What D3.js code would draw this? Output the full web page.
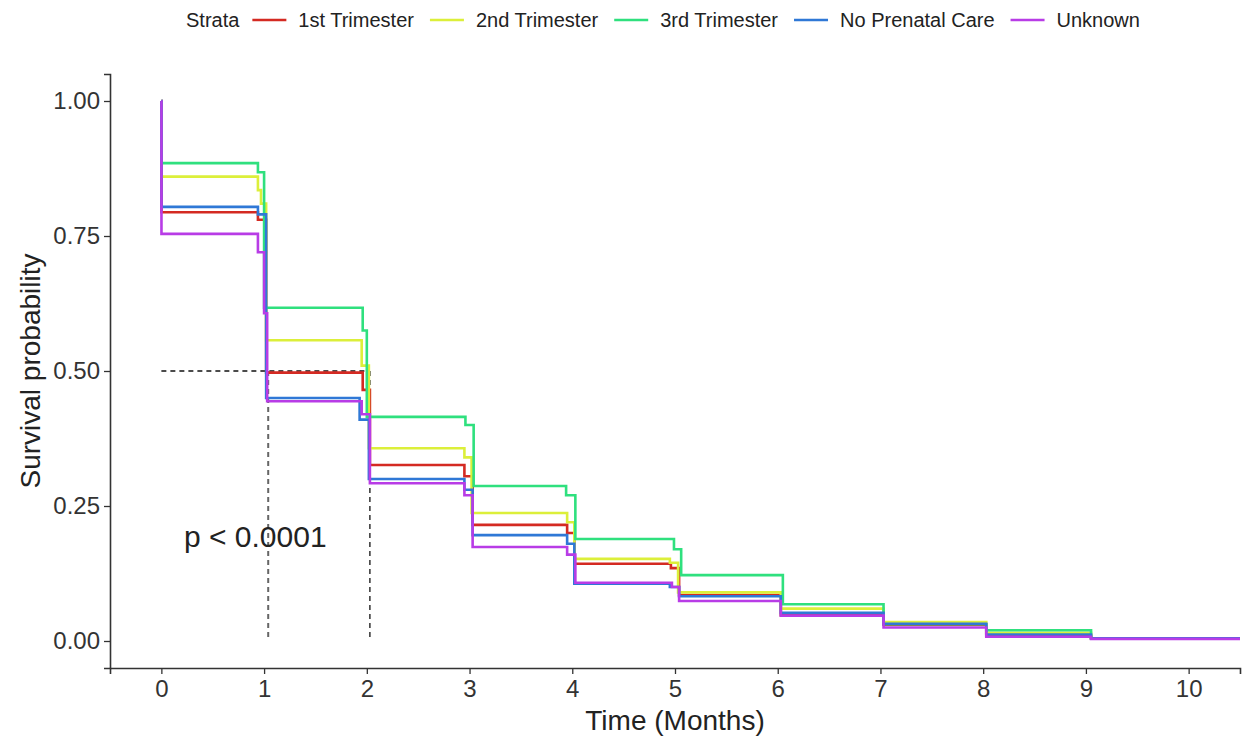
<!DOCTYPE html>
<html>
<head>
<meta charset="utf-8">
<script src="https://cdn.jsdelivr.net/npm/d3@7"></script>
<style>
  html, body { margin: 0; padding: 0; background: #fff; }
  svg { display: block; font-family: "Liberation Sans", Arial, sans-serif; }
</style>
</head>
<body>
<svg id="chart" width="1242" height="746"></svg>
<script>
// ---- data ----
const strata = ["1st Trimester", "2nd Trimester", "3rd Trimester", "No Prenatal Care", "Unknown"];
const colors = ["#d42a22", "#dcef3a", "#2fe07e", "#2f78d6", "#b83ce6"];

// each stratum: step times (months) and survival value from that time on
const timesFirst  = [0, 0.001, 0.94, 1.02, 1.96, 2.03, 2.95, 3.03, 3.95, 4.02, 4.96, 5.04, 6.03, 7.03, 8.03, 9.05, 10.5];
const survFirst   = [1, 0.794, 0.78, 0.497, 0.465, 0.326, 0.305, 0.215, 0.200, 0.143, 0.135, 0.085, 0.048, 0.030, 0.010, 0.005, 0.005];

const timesSecond = [0, 0.001, 0.94, 0.97, 1.02, 1.95, 2.02, 2.95, 3.02, 3.95, 4.02, 4.95, 5.03, 6.03, 7.03, 8.03, 9.05, 10.5];
const survSecond  = [1, 0.860, 0.835, 0.81, 0.557, 0.51, 0.357, 0.34, 0.237, 0.22, 0.152, 0.145, 0.090, 0.060, 0.035, 0.015, 0.005, 0.005];

const timesThird  = [0, 0.001, 0.94, 1.00, 1.96, 2.00, 2.96, 3.04, 3.94, 4.03, 4.99, 5.06, 6.05, 7.03, 8.03, 9.05, 10.5];
const survThird   = [1, 0.885, 0.868, 0.617, 0.575, 0.415, 0.40, 0.287, 0.27, 0.189, 0.17, 0.122, 0.068, 0.031, 0.020, 0.005, 0.005];

const timesNoCare = [0, 0.001, 0.94, 1.02, 1.93, 2.02, 2.95, 3.03, 3.95, 4.02, 4.95, 5.04, 6.03, 7.03, 8.03, 9.05, 10.5];
const survNoCare  = [1, 0.804, 0.79, 0.450, 0.41, 0.300, 0.28, 0.196, 0.18, 0.106, 0.100, 0.083, 0.052, 0.032, 0.012, 0.005, 0.005];

const timesUnknown = [0, 0.001, 0.94, 1.00, 1.03, 1.95, 2.03, 2.95, 3.03, 3.95, 4.03, 4.97, 5.04, 6.03, 7.03, 8.03, 9.05, 10.5];
const survUnknown  = [1, 0.754, 0.72, 0.607, 0.444, 0.42, 0.292, 0.27, 0.174, 0.16, 0.108, 0.10, 0.074, 0.047, 0.025, 0.008, 0.004, 0.004];

const seriesTimes = [timesFirst, timesSecond, timesThird, timesNoCare, timesUnknown];
const seriesSurv  = [survFirst, survSecond, survThird, survNoCare, survUnknown];

const xTicks = [0, 1, 2, 3, 4, 5, 6, 7, 8, 9, 10];
const yTicks = [0, 0.25, 0.5, 0.75, 1.0];
const yTickLabels = ["0.00", "0.25", "0.50", "0.75", "1.00"];

// median survival lines
const medianLevel = 0.5;
const medianTimes = [1.04, 2.03];
const pValueText = "p < 0.0001";

// ---- drawing ----
const svg = d3.select("#chart");
const x = d3.scaleLinear().domain([-0.5, 10.5]).range([110, 1240]);
const y = d3.scaleLinear().domain([-0.05, 1.05]).range([668, 74]);

const axisColor = "#333";

// axes
const xAxis = svg.append("g").attr("transform", `translate(0,${y(-0.05)})`)
  .call(d3.axisBottom(x).tickValues(xTicks).tickFormat(d3.format("d")).tickSizeOuter(0).tickSize(6).tickPadding(6));
const yAxis = svg.append("g").attr("transform", `translate(${x(-0.5)},0)`)
  .call(d3.axisLeft(y).tickValues(yTicks).tickFormat((d, i) => yTickLabels[i]).tickSizeOuter(0).tickSize(6).tickPadding(4));

[xAxis, yAxis].forEach(g => {
  g.select(".domain").attr("stroke", axisColor).attr("stroke-width", 1.6);
  g.selectAll(".tick line").attr("stroke", axisColor).attr("stroke-width", 1.3);
  g.selectAll(".tick text").attr("fill", "#333").style("font-size", "24px")
    .style("font-family", '"Liberation Sans", Arial, sans-serif');
});
xAxis.selectAll(".tick text").attr("dy", "0.72em");

// median dashed lines
svg.append("line")
  .attr("x1", x(0)).attr("x2", x(d3.max(medianTimes)))
  .attr("y1", y(medianLevel)).attr("y2", y(medianLevel))
  .attr("stroke", "#111").attr("stroke-width", 1.3).attr("stroke-dasharray", "5,4");
svg.selectAll(".med").data(medianTimes).enter().append("line")
  .attr("x1", d => x(d)).attr("x2", d => x(d))
  .attr("y1", y(medianLevel)).attr("y2", y(0))
  .attr("stroke", (d, i) => i === 0 ? "#666" : "#111")
  .attr("stroke-width", (d, i) => i === 0 ? 2 : 1.3)
  .attr("stroke-dasharray", "5,4");

// survival curves
const line = d3.line().x(d => x(d[0])).y(d => y(d[1])).curve(d3.curveStepAfter);
strata.forEach((s, i) => {
  const pts = seriesTimes[i].map((t, j) => [t, seriesSurv[i][j]]);
  svg.append("path").datum(pts)
    .attr("d", line)
    .attr("fill", "none")
    .attr("stroke", colors[i])
    .attr("stroke-width", 2.6)
    .attr("stroke-linejoin", "miter");
});

// p-value
svg.append("text")
  .attr("x", x(0.22)).attr("y", y(0.175))
  .attr("fill", "#222").style("font-size", "30px")
  .text(pValueText);

// axis titles
svg.append("text")
  .attr("x", (x(-0.5) + x(10.5)) / 2).attr("y", 730)
  .attr("text-anchor", "middle").attr("fill", "#222").style("font-size", "28px")
  .text("Time (Months)");
svg.append("text")
  .attr("transform", `translate(40,${(y(-0.05) + y(1.05)) / 2}) rotate(-90)`)
  .attr("text-anchor", "middle").attr("fill", "#222").style("font-size", "28px")
  .text("Survival probability");

// legend
const legend = svg.append("g").attr("transform", "translate(0,20)");
let cx = 186;
const title = legend.append("text").attr("x", cx).attr("y", 0).attr("dy", "0.35em")
  .attr("fill", "#222").style("font-size", "20px").text("Strata");
cx += title.node().getComputedTextLength() + 13;
strata.forEach((s, i) => {
  legend.append("line").attr("x1", cx).attr("x2", cx + 34).attr("y1", 0).attr("y2", 0)
    .attr("stroke", colors[i]).attr("stroke-width", 2.6);
  cx += 34 + 12;
  const t = legend.append("text").attr("x", cx).attr("y", 0).attr("dy", "0.35em")
    .attr("fill", "#222").style("font-size", "20px").text(s);
  cx += t.node().getComputedTextLength() + 16;
});
</script>
</body>
</html>
